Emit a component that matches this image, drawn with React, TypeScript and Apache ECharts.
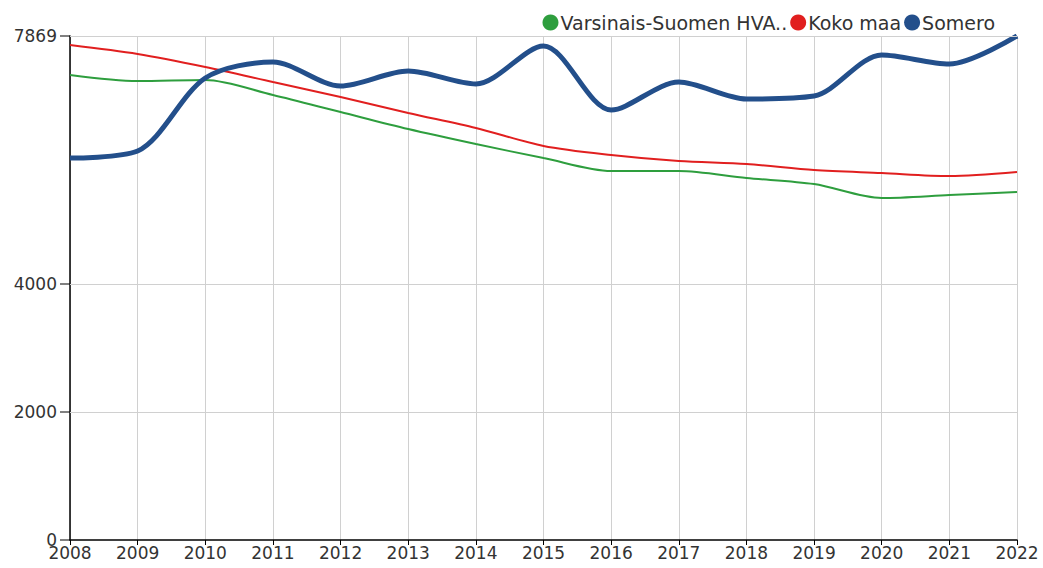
import React, { useEffect, useRef } from "react";
import * as echarts from "echarts";

const years = ["2008","2009","2010","2011","2012","2013","2014","2015","2016","2017","2018","2019","2020","2021","2022"];
const varsinais = [7260, 7166, 7182, 6948, 6682, 6417, 6183, 5964, 5761, 5761, 5652, 5558, 5340, 5386, 5433];
const kokoMaa = [7728, 7588, 7385, 7151, 6917, 6667, 6433, 6152, 6011, 5917, 5870, 5777, 5730, 5683, 5746];
const somero = [5964, 6073, 7213, 7463, 7088, 7322, 7120, 7713, 6714, 7151, 6885, 6932, 7572, 7432, 7869];
const yTicks = [0, 2000, 4000, 7869];
const yMax = 7869;
const seriesNames = ["Varsinais-Suomen HVA", "Koko maa", "Somero"];

const GRID = { left: 70, right: 26, top: 36, bottom: 28 };
const H = 568;

export default function App() {
  const ref = useRef<HTMLDivElement>(null);
  useEffect(() => {
    if (!ref.current) return;
    const chart = echarts.init(ref.current, null, { renderer: "svg" });
    const font = "DejaVu Sans";
    const plotH = H - GRID.top - GRID.bottom;
    const tickEls = yTicks.map((v) => {
      const py = Math.round(GRID.top + plotH * (1 - v / yMax));
      return {
        type: "rect",
        silent: true,
        z: 100,
        shape: { x: GRID.left - 10, y: py - 0.5, width: 10, height: 1 },
        style: { fill: "#000" },
      };
    });
    chart.setOption({
      animation: false,
      textStyle: { fontFamily: font },
      graphic: tickEls,
      legend: {
        right: 43,
        top: 8,
        icon: "circle",
        itemWidth: 16,
        itemHeight: 16,
        itemGap: 3,
        textStyle: { fontSize: 19, color: "#333", fontFamily: font, padding: [0, 0, 0, -3] },
        formatter: (n: string) => (n === seriesNames[0] ? n + ".." : n),
        data: seriesNames,
      },
      grid: { ...GRID, containLabel: false },
      xAxis: {
        type: "category",
        data: years,
        boundaryGap: false,
        axisLine: { lineStyle: { color: "#000", width: 1.5 } },
        axisTick: { show: true, length: 5, lineStyle: { color: "#000" } },
        axisLabel: { fontSize: 17, color: "#333", margin: 4, fontFamily: font },
        splitLine: { show: true, lineStyle: { color: "#d0d0d0", width: 1 } },
      },
      yAxis: {
        type: "value",
        min: 0,
        max: yMax,
        axisLine: { show: true, lineStyle: { color: "#000", width: 1.5 } },
        axisTick: { show: false },
        axisLabel: {
          fontSize: 17,
          color: "#333",
          margin: 13,
          customValues: yTicks,
          fontFamily: font,
          formatter: (v: number) => String(v),
        },
        splitLine: { show: false },
      },
      series: [
        {
          name: seriesNames[0],
          type: "line",
          data: varsinais,
          smooth: 0.3,
          showSymbol: false,
          lineStyle: { color: "#2e9e3e", width: 2 },
          itemStyle: { color: "#2e9e3e" },
          markLine: {
            silent: true,
            symbol: "none",
            label: { show: false },
            lineStyle: { color: "#d0d0d0", width: 1, type: "solid" },
            data: yTicks.filter((v) => v > 0).map((v) => ({ yAxis: v })),
          },
        },
        {
          name: seriesNames[1],
          type: "line",
          data: kokoMaa,
          smooth: 0.3,
          showSymbol: false,
          lineStyle: { color: "#e11f1f", width: 2 },
          itemStyle: { color: "#e11f1f" },
        },
        {
          name: seriesNames[2],
          type: "line",
          data: somero,
          smooth: 0.3,
          showSymbol: false,
          lineStyle: { color: "#234f8b", width: 5 },
          itemStyle: { color: "#234f8b" },
        },
      ],
    });
    return () => chart.dispose();
  }, []);
  return (
    <div
      ref={ref}
      style={{ position: "absolute", left: 0, top: 0, width: 1043, height: H }}
    />
  );
}
